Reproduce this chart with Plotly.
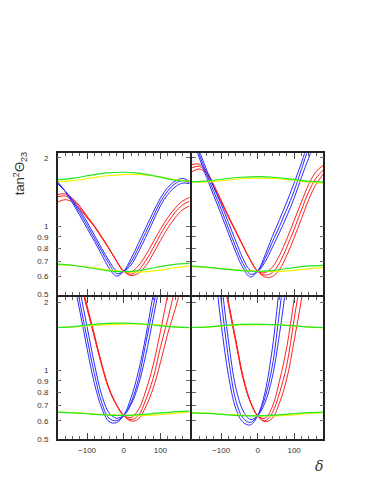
import math
import plotly.graph_objects as go

# delta grid (degrees)
delta = [-180, -160, -140, -120, -100, -80, -60, -40, -20, 0, 20, 40, 60, 80, 100, 120, 140, 160, 180]
delta_c = [-180, -135, -90, -45, 0, 45, 90, 135, 180]

# top left panel
tl_blue = [
    [1.57, 1.43, 1.27, 1.12, 0.98, 0.86, 0.75, 0.655, 0.603, 0.634, 0.72, 0.84, 0.985, 1.15, 1.33, 1.48, 1.58, 1.625, 1.58],
    [1.55, 1.43, 1.29, 1.15, 1.013, 0.887, 0.777, 0.684, 0.619, 0.634, 0.696, 0.803, 0.939, 1.098, 1.28, 1.43, 1.54, 1.59, 1.56],
    [1.54, 1.43, 1.31, 1.18, 1.045, 0.915, 0.80, 0.705, 0.638, 0.634, 0.675, 0.77, 0.895, 1.05, 1.23, 1.38, 1.49, 1.55, 1.54],
]
tl_red = [
    [1.38, 1.39, 1.33, 1.23, 1.11, 1.005, 0.90, 0.80, 0.705, 0.634, 0.63, 0.67, 0.745, 0.85, 0.97, 1.09, 1.20, 1.29, 1.34],
    [1.35, 1.36, 1.31, 1.21, 1.10, 1.0, 0.895, 0.80, 0.705, 0.634, 0.615, 0.64, 0.705, 0.80, 0.92, 1.04, 1.15, 1.24, 1.29],
    [1.28, 1.31, 1.28, 1.19, 1.09, 0.995, 0.89, 0.795, 0.705, 0.634, 0.607, 0.62, 0.67, 0.755, 0.865, 0.98, 1.09, 1.18, 1.23],
]
tl_green = [
    [1.605, 1.63, 1.68, 1.72, 1.73, 1.71, 1.66, 1.60, 1.58],
    [0.681, 0.672, 0.655, 0.638, 0.632, 0.64, 0.66, 0.678, 0.686],
]
tl_yellow = [
    [1.575, 1.59, 1.63, 1.67, 1.69, 1.69, 1.66, 1.61, 1.58],
    [0.678, 0.672, 0.66, 0.643, 0.632, 0.628, 0.638, 0.655, 0.67],
]

# top right panel
tr_blue = [
    [2.4, 2.0, 1.64, 1.36, 1.13, 0.93, 0.77, 0.655, 0.598, 0.634, 0.745, 0.90, 1.07, 1.28, 1.55, 1.9, 2.35, 2.6, 2.5],
    [2.45, 2.07, 1.70, 1.42, 1.19, 0.98, 0.81, 0.685, 0.615, 0.634, 0.72, 0.85, 1.0, 1.19, 1.43, 1.78, 2.2, 2.5, 2.45],
    [2.5, 2.15, 1.77, 1.48, 1.25, 1.04, 0.86, 0.72, 0.64, 0.634, 0.695, 0.805, 0.94, 1.11, 1.33, 1.64, 2.0, 2.35, 2.45],
]
tr_red = [
    [1.87, 1.88, 1.75, 1.52, 1.30, 1.11, 0.955, 0.822, 0.71, 0.634, 0.625, 0.66, 0.745, 0.88, 1.06, 1.28, 1.53, 1.74, 1.86],
    [1.81, 1.84, 1.72, 1.50, 1.29, 1.10, 0.95, 0.82, 0.71, 0.634, 0.61, 0.625, 0.69, 0.81, 0.97, 1.18, 1.42, 1.63, 1.77],
    [1.74, 1.79, 1.70, 1.49, 1.28, 1.095, 0.945, 0.818, 0.708, 0.634, 0.598, 0.60, 0.645, 0.745, 0.89, 1.08, 1.31, 1.53, 1.70],
]
tr_green = [
    [1.57, 1.585, 1.62, 1.645, 1.655, 1.645, 1.615, 1.58, 1.565],
    [0.668, 0.66, 0.648, 0.638, 0.634, 0.64, 0.655, 0.668, 0.673],
]
tr_yellow = [
    [1.565, 1.57, 1.595, 1.62, 1.63, 1.625, 1.60, 1.57, 1.55],
    [0.665, 0.66, 0.65, 0.64, 0.634, 0.632, 0.638, 0.65, 0.66],
]

# bottom left panel
bl_blue = [
    [6.0, 4.0, 2.64, 1.84, 1.25, 0.877, 0.683, 0.595, 0.588, 0.633, 0.758, 0.986, 1.41, 2.14, 3.2, 4.6, 5.7, 6.0, 6.0],
    [6.0, 4.6, 3.0, 2.01, 1.39, 0.966, 0.722, 0.616, 0.600, 0.633, 0.722, 0.91, 1.31, 1.89, 2.73, 3.9, 4.9, 5.5, 6.0],
    [6.0, 5.3, 3.4, 2.28, 1.56, 1.07, 0.78, 0.65, 0.616, 0.633, 0.707, 0.86, 1.165, 1.68, 2.46, 3.5, 4.6, 5.3, 6.0],
]
bl_red = [
    [4.5, 4.5, 3.35, 2.5, 1.87, 1.40, 1.05, 0.825, 0.705, 0.633, 0.62, 0.67, 0.81, 1.05, 1.48, 2.15, 3.0, 4.0, 4.5],
    [4.5, 4.6, 3.4, 2.55, 1.9, 1.42, 1.06, 0.83, 0.707, 0.633, 0.607, 0.633, 0.74, 0.92, 1.26, 1.68, 2.3, 3.25, 4.0],
    [4.5, 4.6, 3.45, 2.6, 1.93, 1.44, 1.07, 0.835, 0.71, 0.633, 0.598, 0.61, 0.69, 0.83, 1.08, 1.45, 1.85, 2.45, 3.5],
]
bl_green = [
    [1.545, 1.56, 1.59, 1.61, 1.615, 1.605, 1.58, 1.555, 1.545],
    [0.655, 0.65, 0.642, 0.636, 0.633, 0.638, 0.648, 0.657, 0.661],
]
bl_yellow = [
    [1.545, 1.555, 1.575, 1.59, 1.60, 1.60, 1.585, 1.56, 1.54],
    [0.655, 0.652, 0.645, 0.638, 0.634, 0.632, 0.637, 0.647, 0.656],
]

# bottom right panel
br_blue = [
    [8, 7.5, 5.2, 3.0, 1.6, 0.95, 0.68, 0.59, 0.575, 0.631, 0.80, 1.24, 2.35, 4.3, 6.5, 8, 8, 8, 8],
    [8, 8, 6, 3.6, 2.03, 1.13, 0.74, 0.616, 0.59, 0.631, 0.758, 1.04, 1.82, 3.2, 4.9, 6.5, 8, 8, 8],
    [8, 8, 6.5, 4.4, 2.5, 1.35, 0.84, 0.665, 0.608, 0.631, 0.72, 0.93, 1.45, 2.5, 4.3, 6.5, 8, 8, 8],
]
br_red = [
    [6, 6, 5.4, 4.1, 2.82, 1.94, 1.33, 0.92, 0.725, 0.631, 0.615, 0.69, 0.90, 1.27, 2.05, 3.3, 5, 6, 6],
    [6, 6, 5.5, 4.2, 2.87, 1.97, 1.35, 0.93, 0.727, 0.631, 0.60, 0.65, 0.795, 1.06, 1.68, 2.64, 4.0, 5.3, 6],
    [6, 6, 5.6, 4.3, 2.92, 2.0, 1.37, 0.94, 0.73, 0.631, 0.594, 0.615, 0.72, 0.92, 1.35, 2.05, 3.2, 4.5, 5.5],
]
br_green = [
    [1.545, 1.555, 1.58, 1.595, 1.60, 1.59, 1.575, 1.555, 1.545],
    [0.65, 0.646, 0.638, 0.632, 0.631, 0.635, 0.643, 0.651, 0.655],
]
br_yellow = [
    [1.545, 1.55, 1.57, 1.585, 1.59, 1.59, 1.575, 1.555, 1.54],
    [0.65, 0.648, 0.641, 0.635, 0.631, 0.63, 0.635, 0.644, 0.652],
]

y_ticks = [0.5, 0.6, 0.7, 0.8, 0.9, 1, 2]
y_labels = ["0.5", "0.6", "0.7", "0.8", "0.9", "1", "2"]
x_ticks = [-100, 0, 100]

panels = [
    ("x", "y", tl_blue, tl_red, tl_green, tl_yellow),
    ("x2", "y2", tr_blue, tr_red, tr_green, tr_yellow),
    ("x3", "y3", bl_blue, bl_red, bl_green, bl_yellow),
    ("x4", "y4", br_blue, br_red, br_green, br_yellow),
]

fig = go.Figure()
for xa, ya, blue, red, green, yellow in panels:
    for ys in red:
        fig.add_trace(go.Scatter(x=delta, y=ys, mode="lines", line=dict(color="#ff2020", width=1, shape="spline"), xaxis=xa, yaxis=ya))
    for ys in blue:
        fig.add_trace(go.Scatter(x=delta, y=ys, mode="lines", line=dict(color="#2a2aff", width=1, shape="spline"), xaxis=xa, yaxis=ya))
    for ys in yellow:
        fig.add_trace(go.Scatter(x=delta_c, y=ys, mode="lines", line=dict(color="#f2f200", width=1.2, shape="spline"), xaxis=xa, yaxis=ya))
    for ys in green:
        fig.add_trace(go.Scatter(x=delta_c, y=ys, mode="lines", line=dict(color="#22e622", width=1.2, shape="spline"), xaxis=xa, yaxis=ya))

# the page body adds an 8px margin, so the figure is 8px smaller and positions are shifted
OFF = 8
W, H = 374 - OFF, 484 - OFF


def px_x(p):
    return (p - OFF) / W


def px_y(p):
    return 1 - (p - OFF) / H


xd_left = [px_x(57.7), px_x(189.7)]
xd_right = [px_x(192), px_x(323.3)]
yd_top = [px_y(297.7), px_y(154.7)]
yd_bot = [px_y(443.3), px_y(300.3)]

tick_font = dict(family="Liberation Sans, Arial, sans-serif", size=8, color="#333")


def xaxis(domain, anchor, labels):
    return dict(domain=domain, anchor=anchor, range=[-180, 180], tickmode="array", tickvals=x_ticks,
                ticks="inside", ticklen=6, tickcolor="#444", showticklabels=labels, tickfont=tick_font,
                minor=dict(tickmode="linear", tick0=0, dtick=20, ticks="inside", ticklen=3, tickcolor="#666"),
                showline=True, mirror="allticks", linecolor="#222", linewidth=1.5,
                showgrid=False, zeroline=False, ticklabelstandoff=3)


def yaxis(domain, anchor, labels):
    return dict(domain=domain, anchor=anchor, type="log", range=[math.log10(0.5), math.log10(2.1)],
                tickmode="array", tickvals=y_ticks, ticktext=y_labels, ticks="inside", ticklen=4,
                tickcolor="#666", showticklabels=labels, tickfont=tick_font,
                showline=True, mirror="allticks", linecolor="#222", linewidth=1.5,
                showgrid=False, zeroline=False, ticklabelstandoff=6)


fig.update_layout(
    width=W, height=H, margin=dict(l=0, r=0, t=0, b=0),
    paper_bgcolor="white", plot_bgcolor="white", showlegend=False,
    xaxis=xaxis(xd_left, "y", False), yaxis=yaxis(yd_top, "x", True),
    xaxis2=xaxis(xd_right, "y2", False), yaxis2=yaxis(yd_top, "x2", False),
    xaxis3=xaxis(xd_left, "y3", True), yaxis3=yaxis(yd_bot, "x3", True),
    xaxis4=xaxis(xd_right, "y4", True), yaxis4=yaxis(yd_bot, "x4", False),
    annotations=[
        dict(text="tan<sup>2</sup>Θ<sub>23</sub>", x=px_x(20), y=px_y(176), xref="paper", yref="paper",
             xanchor="center", yanchor="middle", textangle=-90, showarrow=False,
             font=dict(family="Liberation Sans, Arial, sans-serif", size=13, color="#333")),
        dict(text="<i>δ</i>", x=px_x(319), y=px_y(471), xref="paper", yref="paper",
             xanchor="center", yanchor="middle", showarrow=False,
             font=dict(family="DejaVu Serif, serif", size=14, color="#333")),
    ],
)

fig.write_html("out.html")
